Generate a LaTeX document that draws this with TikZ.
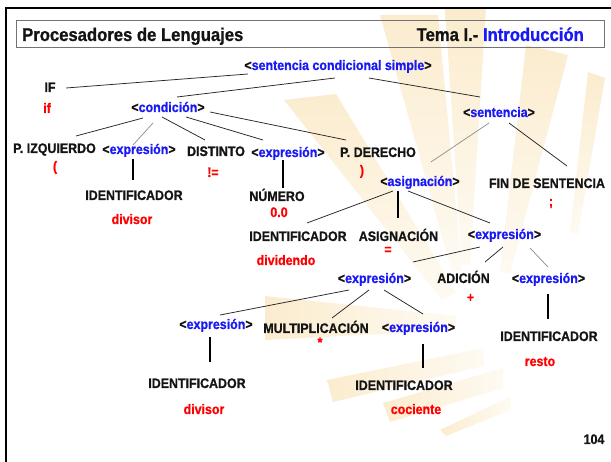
\documentclass[tikz,border=0pt]{standalone}
\usepackage{fontspec}
\newfontfamily\lbf[FakeStretch=0.9,FakeBold=0.8]{Liberation Sans Bold}
\usetikzlibrary{calc}
\definecolor{ntblue}{RGB}{25,25,245}
\definecolor{tred}{RGB}{255,0,0}
\definecolor{tblack}{RGB}{20,20,20}
\definecolor{rayc}{RGB}{251,236,206}
\newcommand\nt[1]{<\textcolor{ntblue}{#1}>}
\begin{document}
\begin{tikzpicture}[x=1pt,y=-1pt,
  lbl/.style={anchor=base,inner sep=0pt,font=\fontsize{13.8}{16}\selectfont\lbf,text=tblack},
  term/.style={lbl,text=tred},
  ttl/.style={lbl,font=\fontsize{18.5}{20}\selectfont\lbf},
  edge/.style={line width=0.75pt,draw=black!85},
  edgel/.style={line width=0.7pt,draw=black!45},
  vedge/.style={line width=1.2pt,draw=black},
  rayv/.style={draw=none,top color=rayc,bottom color=rayc!25},
  rayh/.style={draw=none,left color=rayc,right color=rayc!25}]
\useasboundingbox (0,0) rectangle (611,462);
\fill[white] (0,0) rectangle (611,462);
% watermark rays
\shade[rayv] (380,15) -- (438,15) -- (462,270) -- (452,272) -- cycle;
\shade[rayv] (445,8) -- (486,8) -- (470,265) -- (462,265) -- cycle;
\shade[rayv] (526,45) -- (568,55) -- (510,274) -- (500,272) -- cycle;
\shade[rayv] (588,72) -- (605,78) -- (578,234) -- (570,232) -- cycle;
\shade[rayv] (284,100) -- (336,94) -- (456,292) -- (442,300) -- cycle;
\shade[rayh] (265,296) -- (265,340) -- (456,330) -- (456,316) -- cycle;
\shade[rayh] (327,380) -- (333,402) -- (484,366) -- (483,348) -- cycle;
\shade[rayh] (383,403) -- (390,422) -- (503,388) -- (503,368) -- cycle;
\shade[rayh] (440,430) -- (446,436) -- (510,410) -- (510,397) -- cycle;
% frame
\draw[line width=2.3pt] (6,462) -- (6,8) -- (611,8);
\draw[draw=black!55,line width=1pt] (16.5,20.5) rectangle (604.5,47.5);
\node[ttl,anchor=base west] (tl) at (22,41) {Procesadores de Lenguajes};
\node[ttl,anchor=base east] (tr) at (584,41) {Tema I.- \textcolor{ntblue}{Introducción}};
% nodes
\node[lbl] (scs) at (338,70) {\nt{sentencia condicional simple}};
\node[lbl] (IF) at (50,92) {IF};
\node[term] (if) at (47,113) {if};
\node[lbl] (cond) at (168,112) {\nt{condición}};
\node[lbl] (sent) at (499,117) {\nt{sentencia}};
\node[lbl] (pizq) at (54.5,153) {P. IZQUIERDO};
\node[term] (lp) at (55,171) {(};
\node[lbl] (exp1) at (139,154) {\nt{expresión}};
\node[lbl] (dist) at (216,156) {DISTINTO};
\node[term] (ne) at (213,177) {!=};
\node[lbl] (exp2) at (288,157) {\nt{expresión}};
\node[lbl] (pder) at (378,157) {P. DERECHO};
\node[term] (rp) at (362,175) {)};
\node[lbl] (id1) at (134,200) {IDENTIFICADOR};
\node[term] (dv1) at (132,224) {divisor};
\node[lbl] (num) at (277,201) {NÚMERO};
\node[term] (zero) at (279,217) {0.0};
\node[lbl] (asig) at (420,186) {\nt{asignación}};
\node[lbl] (fin) at (547,188) {FIN DE SENTENCIA};
\node[term] (semi) at (551,206) {;};
\node[lbl] (id2) at (298,241) {IDENTIFICADOR};
\node[term] (dvd) at (286,265) {dividendo};
\node[lbl] (asg) at (398.5,241) {ASIGNACIÓN};
\node[term] (eq) at (388,254) {=};
\node[lbl] (exp3) at (504.5,239) {\nt{expresión}};
\node[lbl] (exp4) at (374.5,283) {\nt{expresión}};
\node[lbl] (adic) at (463.5,283) {ADICIÓN};
\node[term] (plus) at (470.5,302) {+};
\node[lbl] (exp5) at (548.5,283) {\nt{expresión}};
\node[lbl] (id5) at (549,341) {IDENTIFICADOR};
\node[term] (resto) at (540,366) {resto};
\node[lbl] (exp6) at (216,329) {\nt{expresión}};
\node[lbl] (mult) at (316,333) {MULTIPLICACIÓN};
\node[term] (star) at (320,347) {*};
\node[lbl] (exp7) at (418.5,332) {\nt{expresión}};
\node[lbl] (id6) at (197,388) {IDENTIFICADOR};
\node[term] (dv2) at (204,414) {divisor};
\node[lbl] (id7) at (404,390) {IDENTIFICADOR};
\node[term] (coc) at (416,414) {cociente};
\node[lbl] (pg) at (594,444) {104};
% connectors
\draw[edge] ($(IF.base)+(16,-4)$) -- ($(scs.base)+(-90,4)$);
\draw[edge] ($(scs.base)+(-3,8)$) -- ($(cond.base)+(9,-15)$);
\draw[edge] ($(scs.base)+(31,8)$) -- ($(sent.base)+(-19,-20)$);
\draw[edge] ($(cond.base)+(-25,6)$) -- ($(pizq.base)+(21.5,-17)$);
\draw[edgel] ($(cond.base)+(-15,11)$) -- ($(exp1.base)+(-6,-9)$);
\draw[edge] ($(cond.base)+(-6,5)$) -- ($(dist.base)+(-11,-16)$);
\draw[edge] ($(cond.base)+(18,5)$) -- ($(exp2.base)+(-25,-17)$);
\draw[edge] ($(cond.base)+(42,0)$) -- ($(pder.base)+(-32,-17)$);
\draw[vedge] ($(exp1.base)+(-6,5)$) -- ($(id1.base)+(-1,-20)$);
\draw[vedge] ($(exp2.base)+(-5,3)$) -- ($(num.base)+(6,-13)$);
\draw[edgel] ($(sent.base)+(-10,6)$) -- ($(asig.base)+(11,-24)$);
\draw[edge] ($(sent.base)+(10,6)$) -- ($(fin.base)+(20,-22)$);
\draw[edge] ($(asig.base)+(-27,5)$) -- ($(id2.base)+(9,-18)$);
\draw[vedge] ($(asig.base)+(-22,5)$) -- ($(asg.base)+(-0.5,-23)$);
\draw[edge] ($(asig.base)+(-12,5)$) -- ($(exp3.base)+(-14.5,-16)$);
\draw[edge] ($(exp3.base)+(-24.5,8)$) -- ($(exp4.base)+(38.5,-21)$);
\draw[edge] ($(exp3.base)+(-1.5,8)$) -- ($(adic.base)+(21.5,-21)$);
\draw[edgel] ($(exp3.base)+(25.5,9)$) -- ($(exp5.base)+(-0.5,-16)$);
\draw[vedge] ($(exp5.base)+(-0.5,11)$) -- ($(id5.base)+(-1,-22)$);
\draw[edge] ($(exp4.base)+(-25.5,7)$) -- ($(exp6.base)+(4,-14)$);
\draw[edge] ($(exp4.base)+(-5.5,7)$) -- ($(mult.base)+(16,-15)$);
\draw[edge] ($(exp4.base)+(9.5,7)$) -- ($(exp7.base)+(4.5,-18)$);
\draw[vedge] ($(exp6.base)+(-6,8)$) -- ($(id6.base)+(13,-26)$);
\draw[vedge] ($(exp7.base)+(4.5,12)$) -- ($(id7.base)+(19,-22)$);
\end{tikzpicture}
\end{document}
